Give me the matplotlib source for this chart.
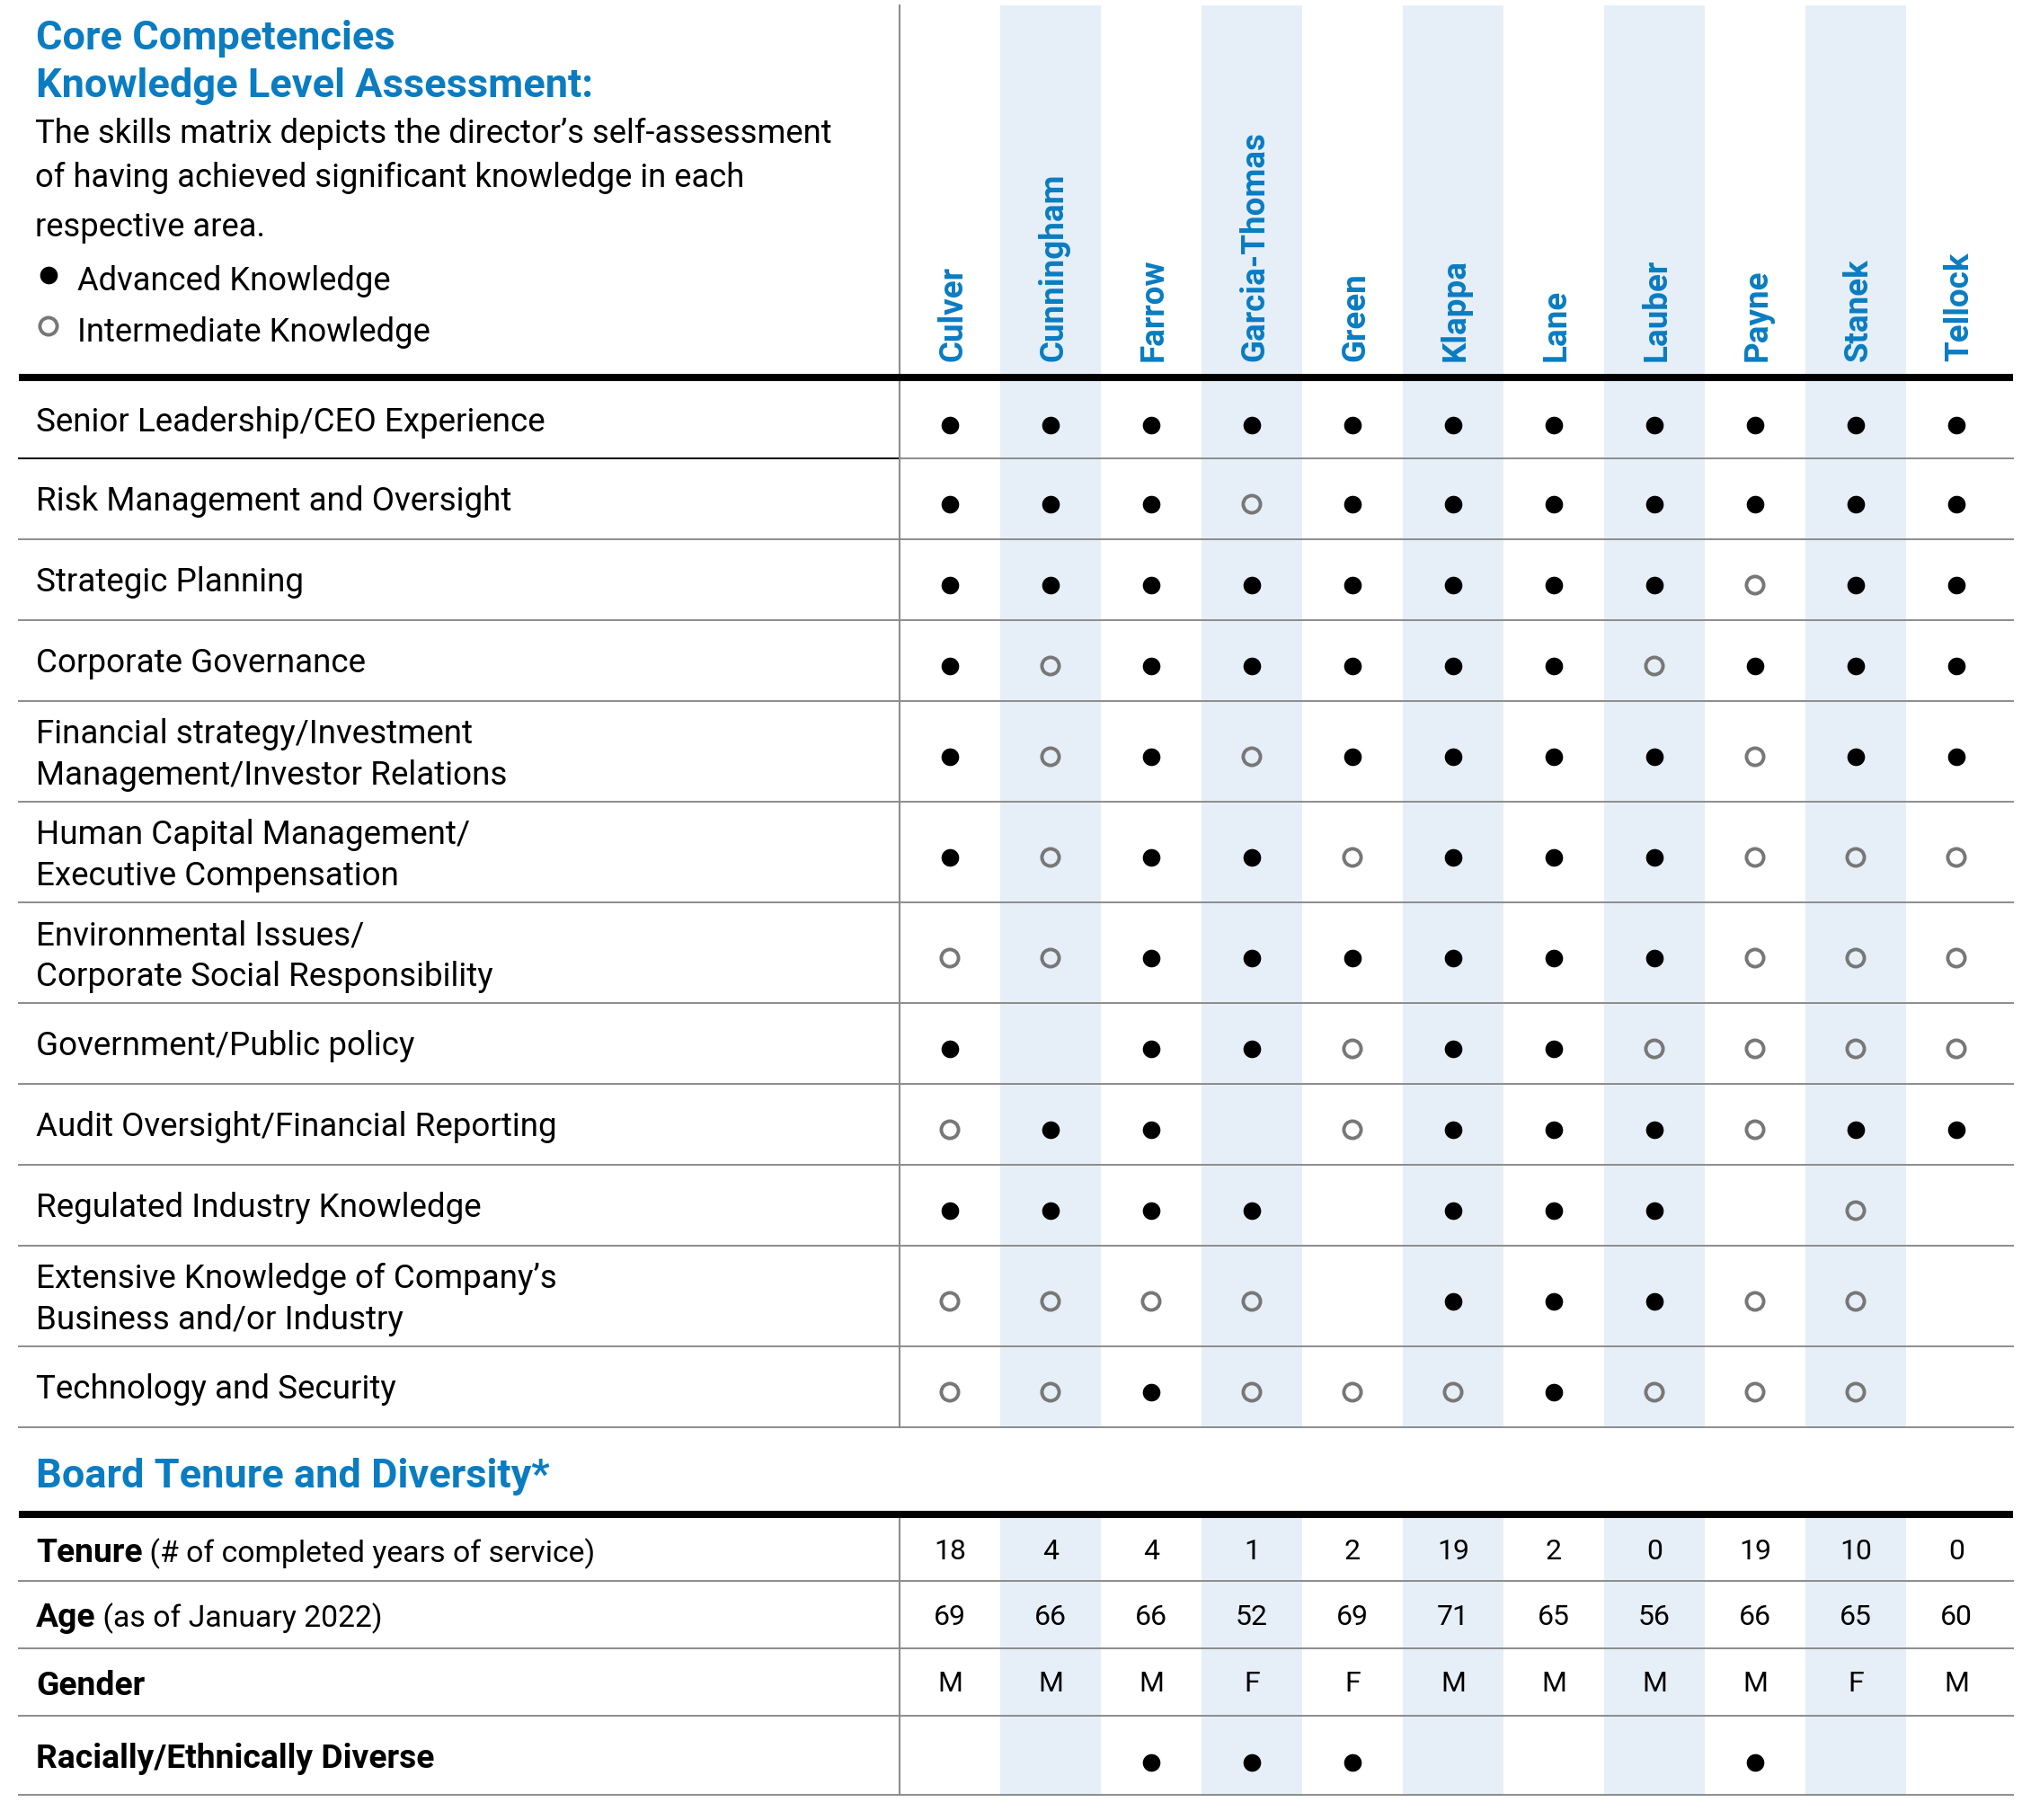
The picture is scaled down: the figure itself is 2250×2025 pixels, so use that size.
import matplotlib.pyplot as plt
import numpy as np

plt.rcParams['font.family'] = ['Roboto', 'DejaVu Sans']

BLUE = '#0a7cc1'
SHADE = '#e6eff7'
GRID = '#8c8c8c'
RING = '#777777'

# ---- data -------------------------------------------------------------
directors = ["Culver", "Cunningham", "Farrow", "Garcia-Thomas", "Green", "Klappa",
             "Lane", "Lauber", "Payne", "Stanek", "Tellock"]

competencies = [
    "Senior Leadership/CEO Experience",
    "Risk Management and Oversight",
    "Strategic Planning",
    "Corporate Governance",
    "Financial strategy/Investment\nManagement/Investor Relations",
    "Human Capital Management/\nExecutive Compensation",
    "Environmental Issues/\nCorporate Social Responsibility",
    "Government/Public policy",
    "Audit Oversight/Financial Reporting",
    "Regulated Industry Knowledge",
    "Extensive Knowledge of Company\u2019s\nBusiness and/or Industry",
    "Technology and Security",
]

# A = advanced, I = intermediate, - = none
skills = [
    "AAAAAAAAAAA",
    "AAAIAAAAAAA",
    "AAAAAAAAIAA",
    "AIAAAAAIAAA",
    "AIAIAAAAIAA",
    "AIAAIAAAIII",
    "IIAAAAAAIII",
    "A-AAIAAIIII",
    "IAA-IAAAIAA",
    "AAAA-AAA-I-",
    "IIII-AAAII-",
    "IIAIIIAIII-",
]

tenure = [18, 4, 4, 1, 2, 19, 2, 0, 19, 10, 0]
age = [69, 66, 66, 52, 69, 71, 65, 56, 66, 65, 60]
gender = ["M", "M", "M", "F", "F", "M", "M", "M", "M", "F", "M"]
diverse = [0, 0, 1, 1, 1, 0, 0, 0, 1, 0, 0]

# ---- layout (pixels) --------------------------------------------------
W, H = 2250, 2025
x_left, x_div, x_right = 21, 1001, 2240
col_w = 112
xc = x_div + (np.arange(len(directors)) + 0.5) * col_w

row_h = [86, 90, 90, 90, 112, 112, 112, 90, 90, 90, 112, 90]
row_top = 424 + np.concatenate([[0], np.cumsum(row_h)[:-1]])
row_bot = row_top + np.array(row_h)
grid_end = row_bot[-1]

sec_top = 1689
sec_h = [70, 75, 75, 88]
sec_rt = sec_top + np.concatenate([[0], np.cumsum(sec_h)[:-1]])
sec_rb = sec_rt + np.array(sec_h)

fig = plt.figure(figsize=(W / 100, H / 100), dpi=100)
ax = fig.add_axes([0, 0, 1, 1])
ax.set_xlim(0, W)
ax.set_ylim(H, 0)
ax.axis('off')


def dots(xs, y, kind):
    if not xs:
        return
    ys = [y] * len(xs)
    if kind == 'A':
        ax.scatter(xs, ys, s=200, color='black', lw=0, zorder=4)
    else:
        ax.scatter(xs, ys, s=190, facecolor='none', edgecolor=RING, linewidth=2.8, zorder=4)


# column shading
for i in range(1, len(directors), 2):
    x0 = x_div + i * col_w
    ax.fill_between([x0, x0 + col_w], 6, grid_end, color=SHADE, lw=0, zorder=0)
    ax.fill_between([x0, x0 + col_w], sec_top, sec_rb[-1], color=SHADE, lw=0, zorder=0)

# vertical divider
ax.plot([x_div, x_div], [6, grid_end], color=GRID, lw=1.5, zorder=1)
ax.plot([x_div, x_div], [sec_top, sec_rb[-1]], color=GRID, lw=1.5, zorder=1)

# thick rules
ax.plot([x_left, x_right], [420, 420], color='black', lw=5.8, solid_capstyle='butt', zorder=3)
ax.plot([x_left, x_right], [1685, 1685], color='black', lw=5.8, solid_capstyle='butt', zorder=3)

# row separators
for k, yb in enumerate(row_bot):
    if k == 0:
        ax.plot([x_left, x_div], [yb, yb], color='black', lw=1.4, zorder=2)
        ax.plot([x_div, x_right], [yb, yb], color=GRID, lw=1.4, zorder=2)
    else:
        ax.plot([x_left, x_right], [yb, yb], color=GRID, lw=1.4, zorder=2)
for yb in sec_rb:
    ax.plot([x_left, x_right], [yb, yb], color=GRID, lw=1.4, zorder=2)

# header text
ax.text(40, 55, "Core Competencies", color=BLUE, fontsize=32.5, fontweight='bold', va='baseline')
ax.text(40, 108, "Knowledge Level Assessment:", color=BLUE, fontsize=32.5, fontweight='bold',
        va='baseline')
desc = ["The skills matrix depicts the director\u2019s self-assessment",
        "of having achieved significant knowledge in each",
        "respective area."]
for s, yb in zip(desc, [159, 208, 263]):
    ax.text(39, yb, s, fontsize=26.2, va='baseline')
dots([54], 306, 'A')
dots([54], 363, 'I')
ax.text(86, 323, "Advanced Knowledge", fontsize=26.2, va='baseline')
ax.text(86, 380, "Intermediate Knowledge", fontsize=26.2, va='baseline')

# director names
for x, name in zip(xc, directors):
    ax.text(x + 13, 402, name, rotation=90, rotation_mode='anchor', ha='left', va='baseline',
            color=BLUE, fontsize=26.5, fontweight='bold')

# competency labels and marks
for k, lab in enumerate(competencies):
    yc = (row_top[k] + row_bot[k]) / 2
    lines = lab.split("\n")
    if len(lines) == 1:
        ax.text(40, yc + 13, lines[0], fontsize=26.5, va='baseline')
    else:
        ax.text(40, yc - 9, lines[0], fontsize=26.5, va='baseline')
        ax.text(40, yc + 37, lines[1], fontsize=26.5, va='baseline')
    row = skills[k]
    dots([xc[i] for i, c in enumerate(row) if c == 'A'], yc + 6, 'A')
    dots([xc[i] for i, c in enumerate(row) if c == 'I'], yc + 6, 'I')

# board tenure & diversity
ax.text(40, 1655, "Board Tenure and Diversity*", color=BLUE, fontsize=32.5, fontweight='bold',
        va='baseline')

fig.canvas.draw()
renderer = fig.canvas.get_renderer()
inv = ax.transData.inverted()

sec_labels = [("Tenure", " (# of completed years of service)"),
              ("Age", " (as of January 2022)"),
              ("Gender", ""),
              ("Racially/Ethnically Diverse", "")]
for k, (bold, rest) in enumerate(sec_labels):
    yc = (sec_rt[k] + sec_rb[k]) / 2
    t = ax.text(40, yc + 14, bold, fontsize=26.8, fontweight='bold', va='baseline')
    if rest:
        bb = t.get_window_extent(renderer)
        xe = inv.transform((bb.x1, bb.y0))[0]
        ax.text(xe, yc + 14, rest, fontsize=24.3, va='baseline')

for vals, k in [(tenure, 0), (age, 1), (gender, 2)]:
    yc = (sec_rt[k] + sec_rb[k]) / 2
    for x, v in zip(xc, vals):
        ax.text(x, yc + 11, str(v), fontsize=23, ha='center', va='baseline')

yc = (sec_rt[3] + sec_rb[3]) / 2
dots([xc[i] for i, d in enumerate(diverse) if d], yc + 8, 'A')

fig.savefig("out.png", dpi=100, facecolor='white')
